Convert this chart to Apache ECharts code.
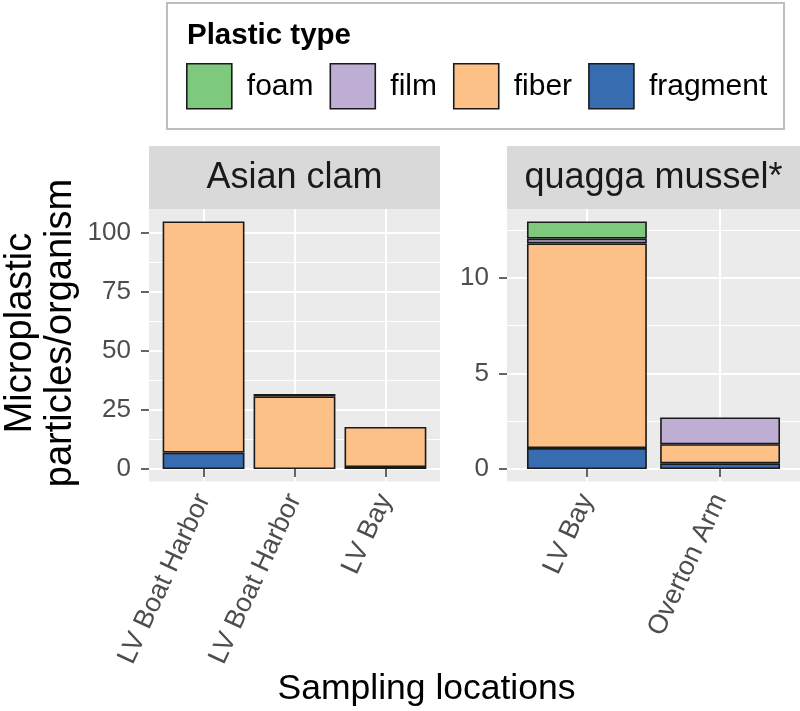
<!DOCTYPE html>
<html>
<head>
<meta charset="utf-8">
<script src="https://cdn.jsdelivr.net/npm/echarts@6.0.0/dist/echarts.min.js"></script>
<style>
  html, body { margin: 0; padding: 0; background: #fff; }
  #chart { width: 800px; height: 711px; }
</style>
</head>
<body>
<div id="chart"></div>
<script>
// stacking order: first one sits at the bottom
var plasticTypes = ['fragment', 'fiber', 'film', 'foam'];
var legendOrder = ['foam', 'film', 'fiber', 'fragment'];
var typeColors = ['#386CB0', '#FDC086', '#BEAED4', '#7FC97F'];

// Asian clam panel
var clamSites = ['LV Boat Harbor', 'LV Boat Harbor', 'LV Bay'];
var clamFragment = [7, '-', 0.9];
var clamFiber = [98, 30.8, 17];
var clamFilm = ['-', 1, '-'];
var clamFoam = ['-', '-', '-'];
var clamTicks = [0, 25, 50, 75, 100];
var clamMinor = [12.5, 37.5, 62.5, 87.5];

// quagga mussel panel
var musselSites = ['LV Bay', 'Overton Arm'];
var musselFragment = [1.1, 0.3];
var musselFiber = [10.7, 1.0];
var musselFilm = [0.25, 1.4];
var musselFoam = [0.9, '-'];
var musselTicks = [0, 5, 10];
var musselMinor = [2.5, 7.5, 12.5];

var FONT = '"Liberation Sans", Arial, Helvetica, sans-serif';
var plotTop = 209, plotH = 272.5, stripH = 63;

var panels = [
    { title: 'Asian clam', sites: clamSites, left: 149, width: 291,
      values: [clamFragment, clamFiber, clamFilm, clamFoam],
      ticks: clamTicks, minor: clamMinor },
    { title: 'quagga mussel*', sites: musselSites, left: 507, width: 293,
      values: [musselFragment, musselFiber, musselFilm, musselFoam],
      ticks: musselTicks, minor: musselMinor }
];

function num(v) { return v === '-' ? 0 : v; }

var grids = [], xAxes = [], yAxes = [], series = [], graphics = [];

panels.forEach(function (p, pi) {
    var n = p.sites.length;
    var top = 0;
    for (var i = 0; i < n; i++) {
        var s = 0;
        p.values.forEach(function (arr) { s += num(arr[i]); });
        top = Math.max(top, s);
    }
    var pad = top * 0.05;
    var catIdx = p.sites.map(function (s, i) { return i + 1; });
    // discrete scale padded by 0.6 on each side, like ggplot
    var unit = p.width / (n + 0.2);

    // panel grid: background, gridlines, ticks, labels
    grids.push({ left: p.left, top: plotTop, width: p.width, height: plotH,
        show: true, backgroundColor: '#EBEBEB', borderWidth: 0 });
    // bar grid: category bands only
    grids.push({ left: p.left + 0.1 * unit, top: plotTop, width: n * unit, height: plotH,
        show: false });

    xAxes.push({
        type: 'value', gridIndex: pi * 2, min: 0.4, max: n + 0.6,
        axisLine: { show: false },
        axisTick: { show: true, customValues: catIdx, length: 8,
            lineStyle: { color: '#333333', width: 1.5 } },
        axisLabel: { customValues: catIdx, rotate: 65, margin: 14,
            fontSize: 27, color: '#4D4D4D', fontFamily: FONT,
            formatter: (function (sites) {
                return function (v) { return sites[Math.round(v) - 1]; };
            })(p.sites) },
        splitLine: { show: true, lineStyle: { color: '#FFFFFF', width: 2 } }
    });
    xAxes.push({
        type: 'category', gridIndex: pi * 2 + 1, data: p.sites, show: false
    });

    yAxes.push({
        type: 'value', gridIndex: pi * 2, min: -pad, max: top + pad,
        axisLine: { show: false },
        axisTick: { show: true, customValues: p.ticks, length: 8,
            lineStyle: { color: '#333333', width: 1.5 } },
        axisLabel: { customValues: p.ticks, margin: 18, fontSize: 26,
            color: '#4D4D4D', fontFamily: FONT },
        splitLine: { show: true, lineStyle: { color: '#FFFFFF', width: 2 } }
    });
    yAxes.push({
        type: 'value', gridIndex: pi * 2, min: -pad, max: top + pad,
        axisLine: { show: false },
        axisTick: { show: false, customValues: p.minor },
        axisLabel: { show: false, customValues: p.minor },
        splitLine: { show: true, lineStyle: { color: '#FFFFFF', width: 1 } }
    });
    yAxes.push({
        type: 'value', gridIndex: pi * 2 + 1, min: -pad, max: top + pad, show: false,
        splitLine: { show: false }
    });

    plasticTypes.forEach(function (t, ti) {
        series.push({
            type: 'bar', name: t, xAxisIndex: pi * 2 + 1, yAxisIndex: pi * 3 + 2,
            stack: 'panel' + pi, barWidth: '90%',
            itemStyle: { color: typeColors[ti], borderColor: '#1A1A1A', borderWidth: 1.6 },
            data: p.values[ti]
        });
    });

    // facet strip
    graphics.push({ type: 'rect', left: p.left, top: plotTop - stripH,
        shape: { width: p.width, height: stripH }, style: { fill: '#D9D9D9' } });
    graphics.push({ type: 'text', x: p.left + p.width / 2, y: plotTop - stripH / 2 + 1,
        style: { text: p.title, font: '36px ' + FONT, fill: '#1A1A1A',
            align: 'center', verticalAlign: 'middle' } });
});

// legend frame and title
graphics.push({ type: 'rect', left: 166, top: 2,
    shape: { width: 617, height: 126 },
    style: { fill: '#FFFFFF', stroke: '#BEBEBE', lineWidth: 2 }, z: -1 });
graphics.push({ type: 'text', x: 187, y: 36,
    style: { text: 'Plastic type', font: 'bold 29.5px ' + FONT, fill: '#000000',
        align: 'left', verticalAlign: 'middle' } });

// axis titles
graphics.push({ type: 'text', x: 426.5, y: 689,
    style: { text: 'Sampling locations', font: '35.5px ' + FONT, fill: '#000000',
        align: 'center', verticalAlign: 'middle' } });
graphics.push({ type: 'text', x: 41, y: 333, rotation: Math.PI / 2,
    style: { text: 'Microplastic\nparticles/organism', font: '38px ' + FONT,
        lineHeight: 40, fill: '#000000', align: 'center', verticalAlign: 'middle' } });

var chart = echarts.init(document.getElementById('chart'), null, { renderer: 'canvas' });
chart.setOption({
    animation: false,
    backgroundColor: '#FFFFFF',
    grid: grids,
    xAxis: xAxes,
    yAxis: yAxes,
    legend: {
        data: legendOrder, left: 186, top: 63, padding: 0,
        orient: 'horizontal', icon: 'rect', selectedMode: false,
        itemWidth: 45, itemHeight: 45, itemGap: 16,
        itemStyle: { borderColor: '#1A1A1A', borderWidth: 1.6 },
        textStyle: { fontSize: 30, color: '#000000', fontFamily: FONT,
            padding: [0, 0, 0, 10] }
    },
    graphic: graphics,
    series: series
});
</script>
</body>
</html>
